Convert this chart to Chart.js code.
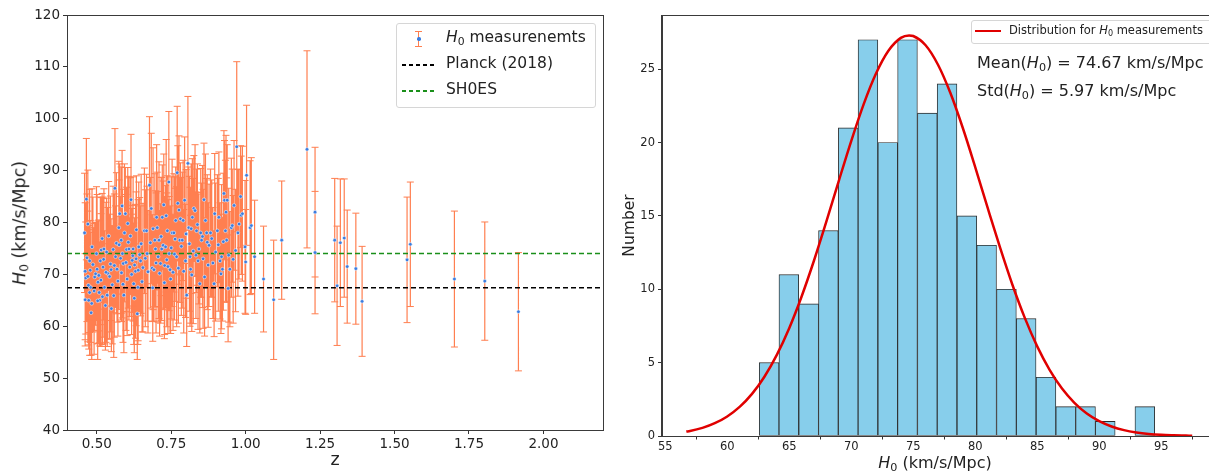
<!DOCTYPE html>
<html lang="en"><head>
<meta charset="utf-8">
<title>H0 measurements</title>
<style type="text/css">
body { margin:0; width:1209px; height:471px; overflow:hidden; background:#fff;
       font-family:"DejaVu Sans",sans-serif; color:#222; position:relative; }
canvas { position:absolute; top:0; }
#left { left:0; } #right { left:610px; }
.txt { position:absolute; white-space:nowrap; line-height:1; }
.txt sub { font-size:70%; vertical-align:-0.25em; line-height:0; }
.legend { position:absolute; background:rgba(255,255,255,0.85); border:1px solid #d6d6d6; border-radius:3px; }
.dash { position:absolute; height:1.6px; }
</style>
<script src="https://cdn.jsdelivr.net/npm/chart.js@4"></script>
</head>
<body>
<canvas id="left" width="610" height="471"></canvas>
<canvas id="right" width="620" height="471"></canvas>

<div class="txt" style="left:20px;top:223px;font-size:17.5px;transform:translate(-50%,-50%) rotate(-90deg);"><i>H</i><sub>0</sub> (km/s/Mpc)</div>
<div class="legend" style="left:396px;top:23px;width:198px;height:83px;"></div>
<div style="position:absolute;left:418px;top:31px;width:1.2px;height:15px;background:coral;"></div>
<div style="position:absolute;left:415px;top:31px;width:7px;height:1px;background:coral;"></div>
<div style="position:absolute;left:415px;top:45.5px;width:7px;height:1px;background:coral;"></div>
<div style="position:absolute;left:417px;top:37px;width:3.5px;height:3.5px;border-radius:50%;background:#3b7de0;"></div>
<div class="txt" style="left:446px;top:30px;font-size:15.5px;"><i>H</i><sub>0</sub> measurenemts</div>
<div class="dash" style="left:402px;top:64px;width:32px;background:repeating-linear-gradient(to right,#000 0 4.5px,transparent 4.5px 7px);"></div>
<div class="txt" style="left:446px;top:56px;font-size:15.5px;">Planck (2018)</div>
<div class="dash" style="left:402px;top:90px;width:32px;background:repeating-linear-gradient(to right,#1a8f1a 0 4.5px,transparent 4.5px 7px);"></div>
<div class="txt" style="left:446px;top:82px;font-size:15.5px;">SH0ES</div>

<div class="txt" style="left:935px;top:463px;font-size:16px;transform:translate(-50%,-50%);"><i>H</i><sub>0</sub> (km/s/Mpc)</div>
<div class="legend" style="left:971px;top:20px;width:260px;height:22px;"></div>
<div style="position:absolute;left:975px;top:29.5px;width:26px;height:2.5px;background:#e00000;"></div>
<div class="txt" style="left:1009px;top:25px;font-size:11.5px;">Distribution for <i>H</i><sub>0</sub> measurements</div>
<div class="txt" style="left:977px;top:55px;font-size:16px;">Mean(<i>H</i><sub>0</sub>) = 74.67 km/s/Mpc</div>
<div class="txt" style="left:977px;top:83px;font-size:16px;">Std(<i>H</i><sub>0</sub>) = 5.97 km/s/Mpc</div>

<script>
// left panel: H0 against redshift
const redshift = [
  0.465,0.459,0.470,0.461,0.463,0.470,0.461,0.473,0.476,0.479,0.481,0.476,0.484,0.493,0.499,0.501,0.504,0.508,0.510,0.512,
  0.515,0.518,0.521,0.524,0.526,0.529,0.535,0.537,0.540,0.546,0.549,0.552,0.555,0.561,0.563,0.566,0.568,0.574,0.577,0.580,
  0.582,0.585,0.586,0.589,0.591,0.593,0.596,0.600,0.604,0.608,0.611,0.613,0.615,0.619,0.622,0.624,0.627,0.630,0.633,0.636,
  0.638,0.641,0.647,0.649,0.652,0.660,0.667,0.669,0.677,0.683,0.686,0.689,0.692,0.695,0.697,0.701,0.703,0.706,0.709,0.714,
  0.718,0.720,0.723,0.725,0.728,0.731,0.733,0.737,0.739,0.742,0.743,0.746,0.748,0.753,0.759,0.761,0.765,0.768,0.770,0.772,
  0.776,0.779,0.781,0.787,0.790,0.795,0.798,0.802,0.806,0.809,0.813,0.815,0.817,0.821,0.824,0.826,0.830,0.835,0.840,0.843,
  0.846,0.849,0.852,0.855,0.860,0.862,0.865,0.869,0.871,0.877,0.882,0.894,0.896,0.899,0.905,0.910,0.914,0.919,0.922,0.927,
  0.929,0.932,0.934,0.936,0.938,0.941,0.943,0.947,0.952,0.955,0.961,0.966,0.970,0.974,0.978,0.983,0.985,0.989,0.998,1.000,
  1.003,1.015,1.019,1.030,
  0.467,0.472,0.478,0.483,0.487,0.491,0.496,0.503,0.507,0.514,0.519,0.523,0.531,0.533,0.543,0.548,0.557,0.559,0.571,0.575,
  0.583,0.588,0.598,0.602,0.606,0.617,0.621,0.626,0.632,0.639,0.644,0.655,0.663,0.672,0.680,0.688,0.699,0.711,0.716,0.727,
  0.735,0.750,0.756,0.763,0.774,0.784,0.792,0.800,0.811,0.819,0.833,0.838,0.857,0.874,0.886,0.890,0.908,0.917,0.925,0.958,
  1.060,1.094,1.121,1.206,1.233,1.233,1.299,1.307,1.318,1.331,1.341,1.370,1.391,1.542,1.553,1.701,1.803,1.916];
const h0 = [
  84.5,78.0,79.7,70.6,69.3,69.6,65.1,65.0,66.5,67.5,62.6,72.6,75.3,69.5,74.0,71.0,68.5,66.5,65.0,72.6,
  74.7,76.9,71.4,74.9,67.5,64.0,66.0,70.2,77.4,72.0,63.4,68.0,74.8,86.6,73.4,76.0,71.0,79.0,81.7,73.1,
  76.6,83.2,74.0,72.1,66.0,78.0,81.7,74.8,79.8,74.9,71.4,77.4,84.4,72.7,74.9,68.2,71.8,70.6,78.6,62.4,
  67.5,75.3,72.6,75.9,68.6,78.4,78.4,74.0,87.2,82.7,71.2,78.8,70.9,76.6,74.9,81.0,79.0,73.4,76.6,72.1,
  74.9,81.0,75.6,83.4,71.7,75.3,81.3,78.4,71.5,87.8,74.0,70.9,69.1,78.0,78.0,73.9,80.4,73.4,89.6,83.7,
  82.4,76.6,80.7,76.6,80.4,84.3,72.6,66.0,91.4,79.0,73.4,71.0,78.8,81.0,74.5,82.7,82.3,78.4,72.6,74.9,
  68.2,78.0,76.6,77.3,84.4,69.5,80.4,78.0,76.2,75.6,78.0,68.2,81.7,74.3,78.4,81.0,72.6,73.4,71.0,85.6,
  84.3,78.4,82.0,76.6,84.3,67.3,73.7,71.0,79.0,79.4,83.3,74.6,94.6,78.0,79.7,85.0,81.4,81.7,75.3,72.4,
  89.1,79.0,79.4,73.4,
  73.2,67.9,70.8,64.4,71.9,66.8,70.1,64.9,69.8,68.9,65.7,72.9,70.4,74.3,69.6,70.9,65.9,71.7,68.7,75.7,
  70.3,68.1,72.3,69.1,76.2,70.0,73.6,65.4,73.0,70.8,73.8,71.3,73.1,70.5,76.1,67.4,72.2,70.2,77.3,68.4,
  72.8,75.1,70.4,76.8,71.2,75.4,70.6,77.8,75.9,69.9,73.7,79.6,73.0,71.8,76.9,72.2,75.7,70.1,76.3,72.9,
  69.1,65.1,76.6,94.1,82.0,74.2,76.6,67.8,76.1,77.0,71.5,71.1,64.8,72.8,75.8,69.1,68.7,62.8];
const h0Err = [
  11.7,11.5,10.4,13.2,10.8,12.6,8.9,9.4,12.1,10.6,8.2,13.8,11.2,10.3,12.9,14.4,11.8,9.7,8.8,12.3,
  10.1,8.7,13.5,11.6,10.9,8.6,9.9,12.7,10.5,13.1,8.3,11.4,12.2,11.5,9.8,13.6,10.2,12.8,9.6,11.9,
  14.1,10.7,12.4,9.3,11.1,13.3,8.9,12.0,10.8,13.7,9.5,11.3,12.6,10.0,13.9,11.7,9.1,12.9,10.4,8.8,
  11.0,12.5,10.6,13.4,9.7,12.1,10.9,13.0,13.2,14.5,10.3,15.6,9.9,12.8,11.2,14.0,10.7,12.6,15.1,11.5,
  13.8,10.1,12.4,9.8,13.3,11.8,14.7,10.6,12.9,13.6,11.0,12.3,10.5,14.2,11.4,12.7,10.3,13.5,12.8,11.1,
  14.3,12.0,10.8,13.1,11.6,12.2,10.9,9.9,12.9,11.7,13.4,10.4,12.5,11.3,14.0,10.2,12.7,11.9,13.2,10.6,
  9.5,12.4,11.0,13.7,10.9,11.4,12.8,10.5,13.0,11.8,12.3,10.2,11.6,13.3,10.8,12.6,11.2,13.9,10.0,12.1,
  11.5,13.6,14.8,12.0,10.7,10.3,12.9,11.1,13.4,10.9,12.5,11.8,16.4,12.2,10.6,9.8,11.4,13.0,12.8,10.1,
  13.5,12.9,13.1,10.9,
  12.3,11.5,9.6,10.8,13.0,12.2,9.9,11.3,10.7,12.8,9.2,11.7,13.5,10.4,12.0,9.8,11.9,13.8,10.6,12.5,
  9.4,11.2,13.1,10.9,12.7,11.6,9.7,10.5,12.9,13.6,11.0,12.4,13.2,11.8,12.6,10.3,13.5,12.1,11.4,10.8,
  12.9,13.7,11.2,12.0,10.6,13.3,11.9,12.4,13.0,10.9,12.2,11.7,13.4,12.0,11.3,10.7,12.8,11.5,13.2,12.3,
  10.2,11.5,11.4,19.0,12.5,11.8,11.9,11.5,12.3,11.4,10.9,10.7,10.6,12.1,12.0,13.1,11.4,11.4];
const planckH0 = 67.4;
const shoesH0 = 74.03;
const zTicks = [0.5, 0.75, 1.0, 1.25, 1.5, 1.75, 2.0];
const h0AxisTicks = [40, 50, 60, 70, 80, 90, 100, 110, 120];

// right panel: histogram of H0 and the fitted distribution
const binCenters = [63.38,64.97,66.57,68.16,69.76,71.35,72.95,74.54,76.14,77.73,
                    79.33,80.92,82.52,84.11,85.71,87.30,88.90,90.49,92.09,93.68];
const binCounts = [5,11,9,14,21,27,20,27,22,24,15,13,10,8,4,2,2,1,0,2];
const curveX = [56.7,57,58,59,60,61,62,63,64,65,66,67,68,69,70,71,72,73,74,74.67,75,76,77,78,79,
                80,81,82,83,84,85,86,87,88,89,90,91,92,93,94,95,96,97,97.5];
const curveY = [0.30,0.34,0.55,0.87,1.33,1.98,2.87,4.04,5.53,7.35,9.51,11.96,14.62,17.39,20.10,22.60,24.70,26.25,27.13,27.3,27.26,
                26.63,25.30,23.37,20.99,18.33,15.56,12.85,10.31,8.05,6.11,4.51,3.23,2.26,1.53,1.01,0.65,0.40,0.24,0.14,0.08,0.05,0.03,0.02];
const countTicks = [0, 5, 10, 15, 20, 25];
const h0Ticks = [55, 60, 65, 70, 75, 80, 85, 90, 95];

const frame = { id:'frame', afterDraw(chart) {
  const a = chart.chartArea, c = chart.ctx;
  c.save(); c.strokeStyle = '#3a3a3a'; c.lineWidth = 1;
  c.strokeRect(Math.round(a.left)+0.5, Math.round(a.top)+0.5, Math.round(a.right-a.left), Math.round(a.bottom-a.top));
  c.restore(); } };

function axisStyle(size, tick) {
  return {
    grid:{display:true, drawOnChartArea:false, drawTicks:true, tickLength:tick, tickColor:'#333', tickWidth:1},
    border:{display:true, color:'#3a3a3a'},
    ticks:{color:'#222', font:{family:'DejaVu Sans', size:size}, padding:3, autoSkip:false, maxRotation:0}
  };
}

Chart.defaults.font.family = 'DejaVu Sans';

const barPts = [], capPts = [], centerPts = [];
for (let i = 0; i < redshift.length; i++) {
  const lo = h0[i] - h0Err[i], hi = h0[i] + h0Err[i];
  barPts.push({x:redshift[i], y:lo}, {x:redshift[i], y:hi}, {x:redshift[i], y:null});
  capPts.push({x:redshift[i], y:lo}, {x:redshift[i], y:hi});
  centerPts.push({x:redshift[i], y:h0[i]});
}

const lx = axisStyle(13.5, 4), ly = axisStyle(13.5, 4);
new Chart(document.getElementById('left'), {
  type:'line',
  data:{datasets:[
    {data:centerPts, showLine:false, pointRadius:1.8, pointBackgroundColor:'#3b7de0', pointBorderColor:'#ffffff', pointBorderWidth:0.5, order:0},
    {data:[{x:0.4,y:planckH0},{x:2.2,y:planckH0}], borderColor:'#000', borderWidth:1.5, borderDash:[5,3], pointRadius:0, order:1},
    {data:[{x:0.4,y:shoesH0},{x:2.2,y:shoesH0}], borderColor:'#1a8f1a', borderWidth:1.5, borderDash:[5,3], pointRadius:0, order:1},
    {data:capPts, showLine:false, pointStyle:'line', pointRadius:3.5, pointBorderColor:'coral', pointBorderWidth:1, order:2},
    {data:barPts, borderColor:'coral', borderWidth:1.2, pointRadius:0, spanGaps:false, tension:0, order:3}
  ]},
  options:{
    responsive:false, animation:false, devicePixelRatio:1,
    layout:{padding:{left:0, top:15, right:7, bottom:0}},
    plugins:{legend:{display:false}, tooltip:{enabled:false}},
    scales:{
      x:Object.assign(lx, {type:'linear', min:0.4, max:2.2,
        afterBuildTicks(s){ s.ticks = zTicks.map(v => ({value:v})); },
        afterFit(s){ s.height = 41; },
        ticks:Object.assign(lx.ticks, {callback:v => v.toFixed(2), padding:2}),
        title:{display:true, text:'z', color:'#222', font:{size:17.5}, padding:{top:0, bottom:0}}}),
      y:Object.assign(ly, {min:40, max:120,
        afterBuildTicks(s){ s.ticks = h0AxisTicks.map(v => ({value:v})); },
        afterFit(s){ s.width = 67; }})
    }
  },
  plugins:[frame]
});

const rx = axisStyle(11.5, 3.5), ry = axisStyle(11.5, 3.5);
new Chart(document.getElementById('right'), {
  type:'bar',
  data:{datasets:[
    {type:'line', data:curveX.map((x, i) => ({x:x, y:curveY[i]})), borderColor:'#e00000', borderWidth:2.5,
     pointRadius:0, tension:0.4, cubicInterpolationMode:'monotone', order:0},
    {data:binCenters.map((x, i) => ({x:x, y:binCounts[i]})), backgroundColor:'#87ceeb', borderColor:'#2b2b2b',
     borderWidth:0.9, borderSkipped:false, barPercentage:1, categoryPercentage:1, order:1}
  ]},
  options:{
    responsive:false, animation:false, devicePixelRatio:1,
    layout:{padding:{left:0, top:15, right:13, bottom:0}},
    plugins:{legend:{display:false}, tooltip:{enabled:false}},
    scales:{
      x:Object.assign(rx, {type:'linear', min:54.7, max:99.5, offset:false,
        afterBuildTicks(s){ s.ticks = h0Ticks.map(v => ({value:v})); },
        afterFit(s){ s.height = 35; },
        ticks:Object.assign(rx.ticks, {padding:1})}),
      y:Object.assign(ry, {min:0, max:28.69,
        afterBuildTicks(s){ s.ticks = countTicks.map(v => ({value:v})); },
        afterFit(s){ s.width = 51.5; },
        title:{display:true, text:'Number', color:'#222', font:{size:15.5}, padding:{top:11, bottom:4}}})
    }
  },
  plugins:[frame]
});
</script>
</body></html>
